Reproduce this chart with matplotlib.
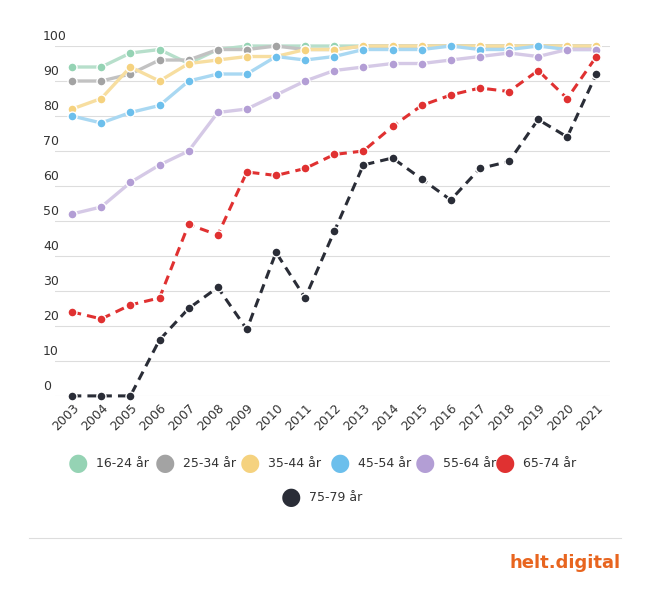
import matplotlib.pyplot as plt
import numpy as np

years = list(range(2003, 2022))
s16_24 = [94, 94, 98, 99, 95, 99, 100, 100, 100, 100, 100, 100, 100, 100, 100, 100, 100, 100, 100]
s25_34 = [90, 90, 92, 96, 96, 99, 99, 100, 99, 99, 100, 100, 100, 100, 100, 100, 100, 100, 100]
s35_44 = [82, 85, 94, 90, 95, 96, 97, 97, 99, 99, 100, 100, 100, 100, 100, 100, 100, 100, 100]
s45_54 = [80, 78, 81, 83, 90, 92, 92, 97, 96, 97, 99, 99, 99, 100, 99, 99, 100, 99, 99]
s55_64 = [52, 54, 61, 66, 70, 81, 82, 86, 90, 93, 94, 95, 95, 96, 97, 98, 97, 99, 99]
s65_74 = [24, 22, 26, 28, 49, 46, 64, 63, 65, 69, 70, 77, 83, 86, 88, 87, 93, 85, 97]
s75_79 = [0, 0, 0, 16, 25, 31, 19, 41, 28, 47, 66, 68, 62, 56, 65, 67, 79, 74, 92]

labels = ['16-24 år', '25-34 år', '35-44 år', '45-54 år', '55-64 år', '65-74 år', '75-79 år']
series = [s16_24, s25_34, s35_44, s45_54, s55_64, s65_74, s75_79]
line_cols = ['#b7dfcb', '#c2c2c2', '#f7dea0', '#a9d8f2', '#d5c9e6', '#e03131', '#2a2d37']
dot_cols = ['#95d3b4', '#a3a3a3', '#f5d27f', '#6cbfec', '#b39ed5', '#e03131', '#2a2d37']

fig = plt.figure(figsize=(6.5, 5.9), dpi=100)
ax = fig.add_axes([0.085, 0.329, 0.854, 0.593])

for i, (vals, lab) in enumerate(zip(series, labels)):
    dashed = i >= 5
    ax.plot(years, vals, color=line_cols[i], lw=2.2 if dashed else 2.4,
            ls=(0, (3, 2)) if dashed else '-', zorder=2 + i, clip_on=False)
    ax.scatter(years, vals, s=42, color=dot_cols[i], edgecolor='white', lw=1.0,
               zorder=3 + i, clip_on=False)

ax.set_xlim(2002.42, 2021.48)
ax.set_ylim(0, 100)
ax.set_yticks(range(0, 101, 10))
ax.set_yticklabels([])
for v in range(0, 101, 10):
    ax.text(2002.0, v + 0.8, str(v), fontsize=9, color='#333333', ha='left', va='bottom')
ax.grid(axis='y', color='#dddddd', lw=0.8)
ax.set_xticks(years)
ax.set_xticklabels([str(y) for y in years], rotation=45, ha='right', rotation_mode='anchor',
                   fontsize=9, color='#333333')
ax.tick_params(length=0, pad=4)
for sp in ax.spines.values():
    sp.set_visible(False)

# legend
leg_x = [0.12, 0.254, 0.385, 0.523, 0.654, 0.777]
for i in range(6):
    fig.text(leg_x[i], 0.215, '\u25cf', color=dot_cols[i], fontsize=17, ha='center', va='center')
    fig.text(leg_x[i] + 0.027, 0.215, labels[i], fontsize=9, color='#333333', va='center')
fig.text(0.448, 0.157, '\u25cf', color=dot_cols[6], fontsize=17, ha='center', va='center')
fig.text(0.475, 0.157, labels[6], fontsize=9, color='#333333', va='center')

fig.add_artist(plt.Line2D([0.045, 0.955], [0.088, 0.088], color='#dddddd', lw=0.8))
fig.text(0.955, 0.045, 'helt.digital', color='#e8651f', fontsize=13, fontweight='bold',
         ha='right', va='center')

fig.savefig('out.png', dpi=100)
